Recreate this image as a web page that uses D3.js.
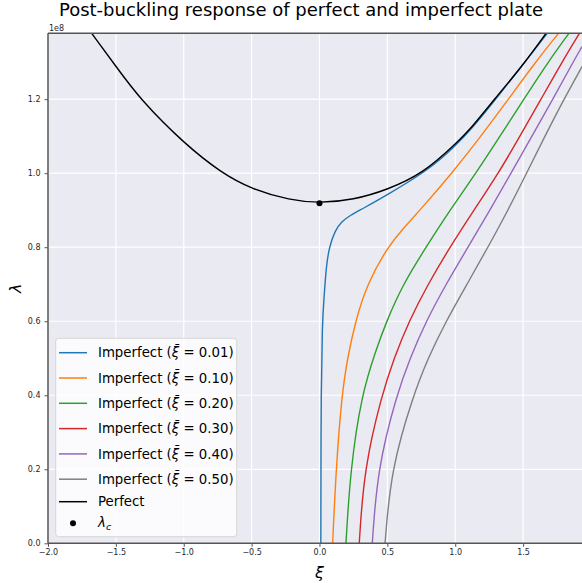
<!DOCTYPE html>
<html>
<head>
<meta charset="utf-8">
<script src="https://cdn.jsdelivr.net/npm/d3@7"></script>
<style>
  body { margin: 0; background: #fff; }
  text { font-family: "DejaVu Sans", sans-serif; }
</style>
</head>
<body>
<script>
// values: xi, lambda (in units of 1e8)
const perfect = [
  [-1.678, 1.378], [-1.5, 1.289], [-1.322, 1.2], [-1.0, 1.081], [-0.72, 1.0],
  [-0.5, 0.957], [-0.217, 0.927], [0, 0.919], [0.25, 0.928], [0.5, 0.955],
  [0.765, 1.0], [1.0, 1.078], [1.123, 1.124], [1.288, 1.2], [1.5, 1.292], [1.669, 1.378]
];
const imp001 = [
  [0.010, 0], [0.011, 0.2], [0.012, 0.4], [0.021, 0.6], [0.033, 0.66], [0.05, 0.75],
  [0.072, 0.8], [0.114, 0.845], [0.163, 0.869], [0.225, 0.886], [0.323, 0.905],
  [0.5, 0.942], [0.79, 1.005], [1.0, 1.073], [1.123, 1.121], [1.3, 1.2], [1.678, 1.378]
];
const imp010 = [
  [0.097, 0], [0.122, 0.2], [0.164, 0.4], [0.206, 0.5], [0.265, 0.6], [0.350, 0.7],
  [0.501, 0.8], [0.615, 0.85], [0.740, 0.9], [0.976, 1.0], [1.190, 1.1], [1.392, 1.2],
  [1.591, 1.3], [1.761, 1.378]
];
const imp020 = [
  [0.195, 0], [0.228, 0.2], [0.309, 0.4], [0.416, 0.522], [0.494, 0.6], [0.615, 0.7],
  [0.785, 0.8], [0.961, 0.9], [1.153, 1.0], [1.330, 1.1], [1.506, 1.2], [1.683, 1.3], [1.838, 1.378]
];
const imp030 = [
  [0.293, 0], [0.328, 0.2], [0.458, 0.4], [0.549, 0.5], [0.659, 0.6], [0.799, 0.7],
  [0.961, 0.8], [1.138, 0.9], [1.319, 1.0], [1.477, 1.1], [1.632, 1.2], [1.786, 1.3], [1.915, 1.378]
];
const imp040 = [
  [0.389, 0], [0.427, 0.2], [0.567, 0.4], [0.667, 0.5], [0.785, 0.6], [0.932, 0.7],
  [1.094, 0.8], [1.256, 0.9], [1.411, 1.0], [1.565, 1.1], [1.720, 1.2], [1.868, 1.3], [1.934, 1.342]
];
const imp050 = [
  [0.483, 0], [0.527, 0.2], [0.691, 0.4], [0.799, 0.5], [0.932, 0.6], [1.087, 0.7],
  [1.241, 0.8], [1.389, 0.9], [1.525, 1.0], [1.661, 1.1], [1.801, 1.2], [1.934, 1.288]
];
const imperfections = ["0.01", "0.10", "0.20", "0.30", "0.40", "0.50"];
const criticalPoint = [0, 0.919];

const xTicks = [-2.0, -1.5, -1.0, -0.5, 0.0, 0.5, 1.0, 1.5];
const yTicks = [0.0, 0.2, 0.4, 0.6, 0.8, 1.0, 1.2];

const colors = ["#1f77b4", "#ff7f0e", "#2ca02c", "#d62728", "#9467bd", "#7f7f7f"];
const imperfect = [imp001, imp010, imp020, imp030, imp040, imp050];

const [width, height] = [582, 583];
const margin = { top: 33.3, right: 0, bottom: 39.7, left: 48 };

const x = d3.scaleLinear().domain([-2, 1.934]).range([margin.left, width]);
const y = d3.scaleLinear().domain([0, 1.378]).range([height - margin.bottom, margin.top]);

const svg = d3.select("body")
  .append("svg")
  .attr("width", width)
  .attr("height", height);

svg.append("defs")
  .append("clipPath")
  .attr("id", "plot-clip")
  .append("rect")
  .attr("x", x.range()[0])
  .attr("y", y.range()[1])
  .attr("width", x.range()[1] - x.range()[0] + 10)
  .attr("height", y.range()[0] - y.range()[1]);

svg.append("rect")
  .attr("x", x.range()[0])
  .attr("y", y.range()[1])
  .attr("width", x.range()[1] - x.range()[0] + 10)
  .attr("height", y.range()[0] - y.range()[1])
  .attr("fill", "#eaeaf2");

// grid
svg.append("g")
  .selectAll("line")
  .data(xTicks)
  .enter()
  .append("line")
  .attr("x1", d => x(d)).attr("x2", d => x(d))
  .attr("y1", y.range()[0]).attr("y2", y.range()[1])
  .attr("stroke", "#fff").attr("stroke-width", 1.2);

svg.append("g")
  .selectAll("line")
  .data(yTicks)
  .enter()
  .append("line")
  .attr("x1", x.range()[0]).attr("x2", width)
  .attr("y1", d => y(d)).attr("y2", d => y(d))
  .attr("stroke", "#fff").attr("stroke-width", 1.2);

// b-spline smooths out the small reading errors between points
const line = d3.line()
  .x(d => x(d[0]))
  .y(d => y(d[1]))
  .curve(d3.curveBasis);

const curves = svg.append("g").attr("clip-path", "url(#plot-clip)");

curves.selectAll(".imperfect")
  .data(imperfect)
  .enter()
  .append("path")
  .classed("imperfect", true)
  .attr("d", line)
  .attr("fill", "none")
  .attr("stroke", (d, i) => colors[i])
  .attr("stroke-width", 1.4);

curves.append("path")
  .datum(perfect)
  .attr("d", line)
  .attr("fill", "none")
  .attr("stroke", "#000")
  .attr("stroke-width", 1.4);

curves.append("circle")
  .attr("cx", x(criticalPoint[0]))
  .attr("cy", y(criticalPoint[1]))
  .attr("r", 3)
  .attr("fill", "#000");

// axes
const fmt = d3.format(".1f");
const xAxis = svg.append("g")
  .attr("transform", `translate(0,${y.range()[0]})`)
  .call(d3.axisBottom(x).tickValues(xTicks).tickFormat(fmt).tickSizeOuter(0).tickSize(3.5).tickPadding(2.5));
const yAxis = svg.append("g")
  .attr("transform", `translate(${x.range()[0]},0)`)
  .call(d3.axisLeft(y).tickValues(yTicks).tickFormat(fmt).tickSizeOuter(0).tickSize(3.5).tickPadding(4));

[xAxis, yAxis].forEach(g => {
  g.select(".domain").remove();
  g.selectAll(".tick line").attr("stroke", "#555").attr("stroke-width", 1);
  g.selectAll(".tick text")
    .attr("fill", "#262626")
    .style("font-family", "DejaVu Sans")
    .style("font-size", "8px");
});

// spines
svg.append("line")
  .attr("x1", x.range()[0]).attr("x2", x.range()[0])
  .attr("y1", y.range()[0]).attr("y2", y.range()[1])
  .attr("stroke", "#555").attr("stroke-width", 1.5);
svg.append("line")
  .attr("x1", x.range()[0]).attr("x2", width)
  .attr("y1", y.range()[0]).attr("y2", y.range()[0])
  .attr("stroke", "#555").attr("stroke-width", 1.5);
svg.append("line")
  .attr("x1", x.range()[0]).attr("x2", width)
  .attr("y1", y.range()[1]).attr("y2", y.range()[1])
  .attr("stroke", "#555").attr("stroke-width", 1.5);

svg.append("text")
  .attr("x", x.range()[0] + 1)
  .attr("y", 31)
  .attr("fill", "#262626")
  .style("font-size", "8px")
  .text("1e8");

// labels
svg.append("text")
  .attr("x", 301)
  .attr("y", 16)
  .attr("text-anchor", "middle")
  .attr("fill", "#000")
  .style("font-size", "18px")
  .text("Post-buckling response of perfect and imperfect plate");

svg.append("text")
  .attr("x", x(0))
  .attr("y", 578)
  .attr("text-anchor", "middle")
  .style("font-size", "16px")
  .style("font-style", "italic")
  .text("ξ");

svg.append("text")
  .attr("transform", `translate(21,${(y.range()[0] + y.range()[1]) / 2}) rotate(-90)`)
  .attr("text-anchor", "middle")
  .style("font-size", "16px")
  .style("font-style", "italic")
  .text("λ");

// legend
const legend = svg.append("g");
legend.append("rect")
  .attr("x", 55.7).attr("y", 338.3)
  .attr("width", 181).attr("height", 198.4)
  .attr("rx", 3)
  .attr("fill", "#fff").attr("fill-opacity", 0.8)
  .attr("stroke", "#d6d6d6").attr("stroke-width", 1);

const rowY = [352.7, 378, 403.3, 428.6, 453.9, 479.2, 501.7, 523.3];

const items = legend.selectAll(".item")
  .data(imperfections)
  .enter()
  .append("g")
  .classed("item", true)
  .attr("transform", (d, i) => `translate(0,${rowY[i]})`);

items.append("line")
  .attr("x1", 59).attr("x2", 87)
  .attr("stroke", (d, i) => colors[i])
  .attr("stroke-width", 1.5);

const itemText = items.append("text")
  .attr("x", 98)
  .attr("y", 4.7)
  .style("font-size", "13.3px");
itemText.append("tspan").text("Imperfect (");
itemText.append("tspan").style("font-style", "italic").text("ξ\u0304");
itemText.append("tspan").text(d => " = " + d + ")");

const perfItem = legend.append("g").attr("transform", `translate(0,${rowY[6]})`);
perfItem.append("line")
  .attr("x1", 59).attr("x2", 87)
  .attr("stroke", "#000").attr("stroke-width", 1.5);
perfItem.append("text")
  .attr("x", 98).attr("y", 4.7)
  .style("font-size", "13.3px")
  .text("Perfect");

const lcItem = legend.append("g").attr("transform", `translate(0,${rowY[7]})`);
lcItem.append("circle")
  .attr("cx", 73).attr("r", 3).attr("fill", "#000");
const lcText = lcItem.append("text")
  .attr("x", 98).attr("y", 3.5)
  .style("font-size", "13.3px")
  .style("font-style", "italic");
lcText.append("tspan").text("λ");
lcText.append("tspan").attr("dy", 3).style("font-size", "9.5px").text("c");
</script>
</body>
</html>
